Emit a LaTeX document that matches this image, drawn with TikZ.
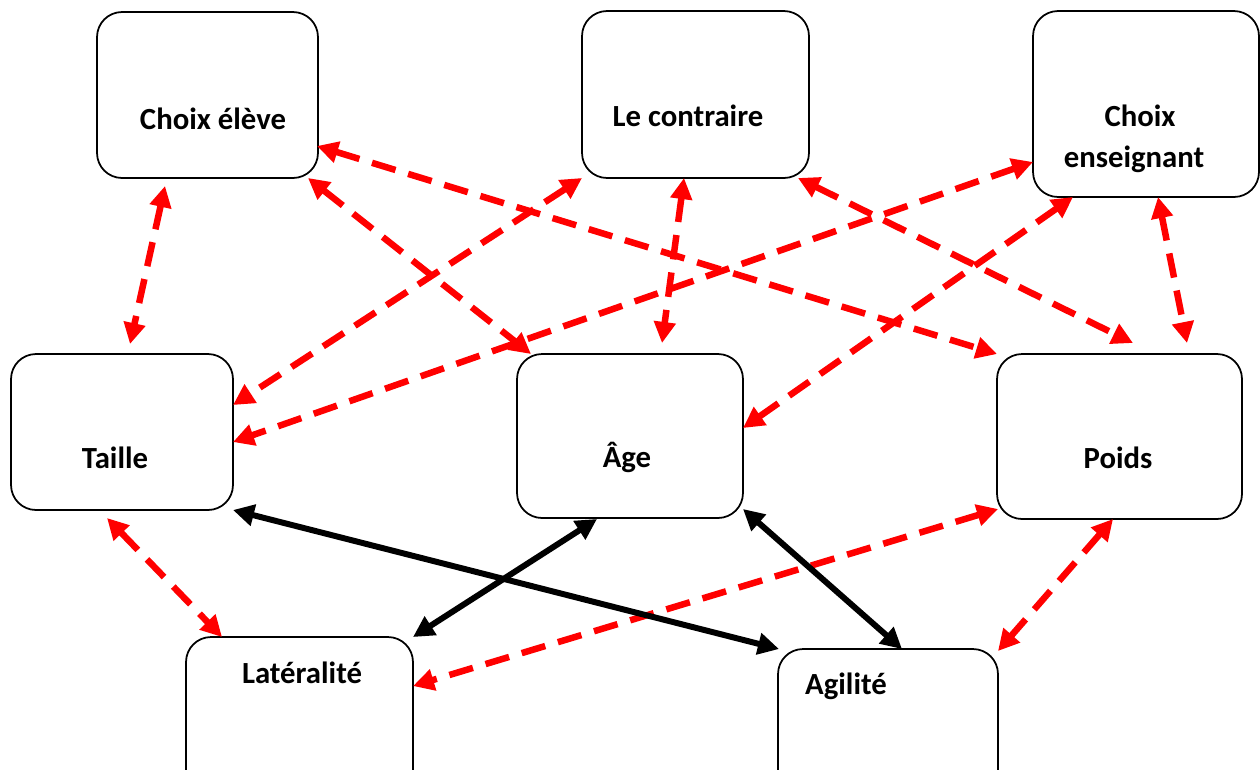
\documentclass[tikz,border=0pt]{standalone}
\usepackage{fontspec}
\setmainfont{Carlito}
\usetikzlibrary{arrows.meta,calc}
\begin{document}
\begin{tikzpicture}[x=0.02cm,y=-0.02cm,
  box/.style={draw=black, line width=1pt, rounded corners=0.5cm, fill=white, inner sep=0pt, outer sep=0pt},
  lbl/.style={font=\bfseries\fontsize{17.5}{21}\selectfont, anchor=base, inner sep=0pt},
  rel/.style={red, line width=3.7pt, dash pattern=on 14pt off 7.5pt, {Triangle[length=12pt,width=12pt]}-{Triangle[length=12pt,width=12pt]}},
  bl/.style={black, line width=3.4pt, {Triangle[length=12pt,width=12pt]}-{Triangle[length=12pt,width=12pt]}}]
\useasboundingbox (0,0) rectangle (1260,769);
\clip (0,0) rectangle (1260,769);
% boxes
\node[box, minimum width=4.42cm, minimum height=3.32cm] (ce) at (207.5,95) {};
\node[box, minimum width=4.54cm, minimum height=3.34cm] (lc) at (695.5,94.5) {};
\node[box, minimum width=4.52cm, minimum height=3.72cm] (cen) at (1146,104) {};
\node[box, minimum width=4.44cm, minimum height=3.12cm] (t) at (122,432) {};
\node[box, minimum width=4.52cm, minimum height=3.28cm] (a) at (630,436) {};
\node[box, minimum width=4.90cm, minimum height=3.30cm] (p) at (1119.5,436.5) {};
\node[box, minimum width=4.54cm, minimum height=3.46cm] (l) at (299.5,723.5) {};
\node[box, minimum width=4.40cm, minimum height=3.22cm] (g) at (888,729.5) {};
% labels
\node[lbl] (ce-t) at (213,129) {Choix élève};
\node[lbl] (lc-t) at (688,126) {Le contraire};
\node[lbl] (cen-t1) at (1140,126) {Choix};
\node[lbl] (cen-t2) at (1134,167) {enseignant};
\node[lbl] (t-t) at (115,468) {Taille};
\node[lbl] (a-t) at (627,467) {Âge};
\node[lbl] (p-t) at (1118,468) {Poids};
\node[lbl] (l-t) at (302,683) {Latéralité};
\node[lbl] (g-t) at (846,694) {Agilité};
% red dashed connectors
\draw[rel] ($(ce.south west)+(68,8)$) -- ($(t.north west)+(119,-10)$);
\draw[rel] ($(ce.south east)+(-10,0)$) -- ($(a.north west)+(14,0)$);
\draw[rel] ($(ce.south east)+(-1,-32)$) -- (p.north west);
\draw[rel] (lc.south west) -- ($(t.north east)+(0,51)$);
\draw[rel] ($(lc.south west)+(102,0)$) -- ($(a.north west)+(145,-11)$);
\draw[rel] ($(lc.south east)+(-11,0)$) -- ($(p.north west)+(136,-11)$);
\draw[rel] ($(cen.south west)+(0,-35)$) -- ($(t.north east)+(0,88)$);
\draw[rel] ($(cen.south west)+(40,0)$) -- ($(a.north east)+(0,74)$);
\draw[rel] ($(cen.south west)+(125,0)$) -- ($(p.north west)+(190,-11)$);
\draw[rel] ($(t.south west)+(96,8)$) -- ($(l.north west)+(36,0)$);
\draw[rel] ($(p.south west)+(1,-10)$) -- ($(l.north east)+(0,49)$);
\draw[rel] ($(p.south west)+(116,0)$) -- ($(g.north east)+(0,2)$);
% black solid connectors
\draw[bl] (t.south east) -- ($(g.north west)+(1,0)$);
\draw[bl] ($(a.south west)+(80,1)$) -- (l.north east);
\draw[bl] ($(a.south east)+(0,-9)$) -- ($(g.north west)+(124,0)$);
\end{tikzpicture}
\end{document}
